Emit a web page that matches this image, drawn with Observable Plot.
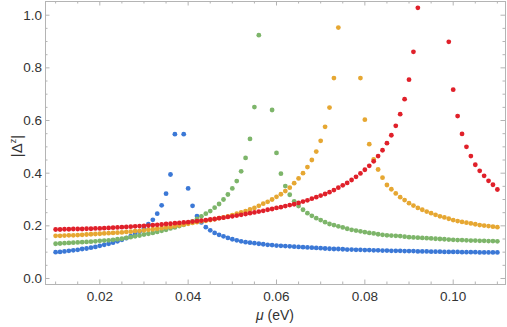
<!DOCTYPE html>
<html><head><meta charset="utf-8">
<script src="https://cdn.jsdelivr.net/npm/d3@7"></script>
<script src="https://cdn.jsdelivr.net/npm/@observablehq/plot@0.6"></script>
<style>html,body{margin:0;padding:0;background:#fff} svg{display:block}</style>
</head><body><div id="chart"></div>
<script>
const mu = [
0.010,0.011,0.012,0.013,0.014,0.015,0.016,0.017,0.018,0.019,
0.020,0.021,0.022,0.023,0.024,0.025,0.026,0.027,0.028,0.029,
0.030,0.031,0.032,0.033,0.034,0.035,0.036,0.037,0.038,0.039,
0.040,0.041,0.042,0.043,0.044,0.045,0.046,0.047,0.048,0.049,
0.050,0.051,0.052,0.053,0.054,0.055,0.056,0.057,0.058,0.059,
0.060,0.061,0.062,0.063,0.064,0.065,0.066,0.067,0.068,0.069,
0.070,0.071,0.072,0.073,0.074,0.075,0.076,0.077,0.078,0.079,
0.080,0.081,0.082,0.083,0.084,0.085,0.086,0.087,0.088,0.089,
0.090,0.091,0.092,0.093,0.094,0.095,0.096,0.097,0.098,0.099,
0.100,0.101,0.102,0.103,0.104,0.105,0.106,0.107,0.108,0.109,
0.110];

const series1 = [
0.100,0.101,0.103,0.105,0.107,0.109,0.112,0.114,0.117,0.120,
0.124,0.128,0.132,0.136,0.141,0.147,0.153,0.161,0.169,0.178,
0.190,0.206,0.223,0.246,0.278,0.322,0.395,0.548,null,0.548,
0.342,0.276,0.237,0.213,0.195,0.183,0.173,0.166,0.160,0.154,
0.149,0.145,0.141,0.138,0.136,0.134,0.132,0.130,0.128,0.127,
0.125,0.124,0.123,0.122,0.121,0.120,0.119,0.118,0.117,0.116,
0.115,0.114,0.113,0.112,0.112,0.111,0.110,0.110,0.109,0.109,
0.108,0.108,0.107,0.107,0.106,0.106,0.105,0.105,0.105,0.104,
0.104,0.104,0.103,0.103,0.103,0.102,0.102,0.102,0.101,0.101,
0.101,0.101,0.100,0.100,0.100,0.100,0.099,0.099,0.099,0.099,
0.099];

const series2 = [
0.132,0.133,0.134,0.135,0.136,0.137,0.138,0.139,0.140,0.141,
0.143,0.144,0.145,0.147,0.149,0.151,0.154,0.157,0.160,0.163,
0.167,0.170,0.173,0.177,0.181,0.185,0.190,0.194,0.199,0.204,
0.210,0.217,0.226,0.236,0.246,0.256,0.269,0.283,0.300,0.319,
0.342,0.370,0.407,0.458,0.530,0.651,0.924,null,null,0.640,
0.477,0.398,0.351,0.318,0.293,0.275,0.261,0.248,0.238,0.229,
0.222,0.214,0.207,0.203,0.198,0.194,0.189,0.185,0.182,0.179,
0.176,0.173,0.171,0.168,0.166,0.164,0.163,0.162,0.161,0.159,
0.157,0.156,0.155,0.154,0.153,0.152,0.151,0.150,0.149,0.148,
0.147,0.146,0.146,0.145,0.144,0.144,0.143,0.143,0.142,0.142,
0.141];

const series3 = [
0.162,0.162,0.163,0.164,0.164,0.165,0.166,0.167,0.168,0.169,
0.170,0.171,0.172,0.173,0.174,0.175,0.177,0.178,0.180,0.181,
0.183,0.185,0.187,0.189,0.191,0.194,0.196,0.199,0.202,0.205,
0.208,0.211,0.214,0.217,0.219,0.222,0.225,0.229,0.232,0.236,
0.241,0.246,0.251,0.256,0.262,0.268,0.276,0.284,0.291,0.300,
0.310,0.320,0.332,0.345,0.362,0.380,0.400,0.423,0.450,0.482,
0.523,0.576,0.649,0.761,0.953,null,null,null,null,0.761,
0.603,0.510,0.452,0.414,0.383,0.355,0.339,0.323,0.309,0.298,
0.286,0.277,0.268,0.261,0.254,0.248,0.242,0.236,0.232,0.227,
0.222,0.218,0.215,0.212,0.209,0.206,0.203,0.201,0.199,0.197,
0.195];

const series4 = [
0.186,0.186,0.187,0.187,0.188,0.188,0.188,0.189,0.189,0.190,
0.190,0.191,0.192,0.193,0.194,0.195,0.196,0.197,0.198,0.199,
0.200,0.201,0.203,0.204,0.205,0.207,0.208,0.210,0.211,0.213,
0.214,0.216,0.218,0.220,0.222,0.224,0.226,0.229,0.231,0.234,
0.236,0.239,0.242,0.245,0.248,0.251,0.254,0.257,0.261,0.264,
0.268,0.271,0.275,0.279,0.282,0.287,0.292,0.297,0.303,0.309,
0.315,0.321,0.328,0.336,0.345,0.354,0.363,0.374,0.386,0.399,
0.413,0.428,0.445,0.465,0.487,0.514,0.544,0.580,0.624,0.681,
0.755,0.861,1.028,null,null,null,null,null,null,0.899,
0.717,0.617,0.549,0.500,0.465,0.432,0.409,0.390,0.371,0.356,
0.338];

const seriesNames = ["S1","S2","S3","S4"];
const seriesColors = ["#3b78d6","#7db56a","#e6a732","#e0202a"];
const seriesValues = [series1, series2, series3, series4];

const xMajor = [0.02,0.04,0.06,0.08,0.10];
const xMinor = [0.01,0.015,0.025,0.03,0.035,0.045,0.05,0.055,0.065,0.07,0.075,0.085,0.09,0.095,0.105,0.11];
const yMajor = [0.0,0.2,0.4,0.6,0.8,1.0];
const yMinor = [0.05,0.1,0.15,0.25,0.3,0.35,0.45,0.5,0.55,0.65,0.7,0.75,0.85,0.9,0.95];

const points = [];
seriesValues.forEach((vals, s) => {
  vals.forEach((v, i) => { if (v != null) points.push({mu: mu[i], v, s: seriesNames[s]}); });
});

const W = 507, H = 327;
const mL = 45, mR = 2, mT = 1, mB = 43;
const plotW = W - mL - mR, plotH = H - mT - mB;
const frameColor = "#b4b4b4";
const majLen = 4.5, minLen = 2.5;

const chart = Plot.plot({
  width: W, height: H,
  marginLeft: mL, marginRight: mR, marginTop: mT, marginBottom: mB,
  style: {fontFamily: "'Liberation Sans', Arial, sans-serif", fontSize: "13.5px", color: "#333", background: "#fff"},
  x: {domain: [0.007708, 0.11184], ticks: xMajor, tickFormat: d3.format(".2f"), tickSize: 0, tickPadding: 7, label: null},
  y: {domain: [-0.0228, 1.052], ticks: yMajor, tickFormat: d3.format(".1f"), tickSize: 0, tickPadding: 3.5, label: null},
  color: {type: "ordinal", domain: seriesNames, range: seriesColors},
  marks: [
    Plot.frame({stroke: frameColor}),
    Plot.tickX(xMajor, {stroke: frameColor, insetTop: plotH - majLen}),
    Plot.tickX(xMajor, {stroke: frameColor, insetBottom: plotH - majLen}),
    Plot.tickX(xMinor, {stroke: frameColor, insetTop: plotH - minLen}),
    Plot.tickX(xMinor, {stroke: frameColor, insetBottom: plotH - minLen}),
    Plot.tickY(yMajor, {stroke: frameColor, insetRight: plotW - majLen}),
    Plot.tickY(yMajor, {stroke: frameColor, insetLeft: plotW - majLen}),
    Plot.tickY(yMinor, {stroke: frameColor, insetRight: plotW - minLen}),
    Plot.tickY(yMinor, {stroke: frameColor, insetLeft: plotW - minLen}),
    Plot.dot(points, {x: "mu", y: "v", fill: "s", r: 2.4, stroke: null})
  ]
});

const svg = d3.select(chart);
const yl = svg.append("text")
  .attr("transform", "translate(22,146) rotate(-90)")
  .attr("text-anchor", "middle")
  .attr("fill", "#333")
  .style("font-size", "15px");
yl.append("tspan").text("|Δ");
yl.append("tspan").attr("dy", "-6").style("font-size", "9px").text("z");
yl.append("tspan").attr("dy", "6").text("|");

const xl = svg.append("text")
  .attr("x", 275).attr("y", 320)
  .attr("text-anchor", "middle")
  .attr("fill", "#333")
  .style("font-size", "14px");
xl.append("tspan").style("font-style", "italic").text("μ");
xl.append("tspan").text(" (eV)");

document.getElementById("chart").appendChild(chart);
</script>
</body></html>
